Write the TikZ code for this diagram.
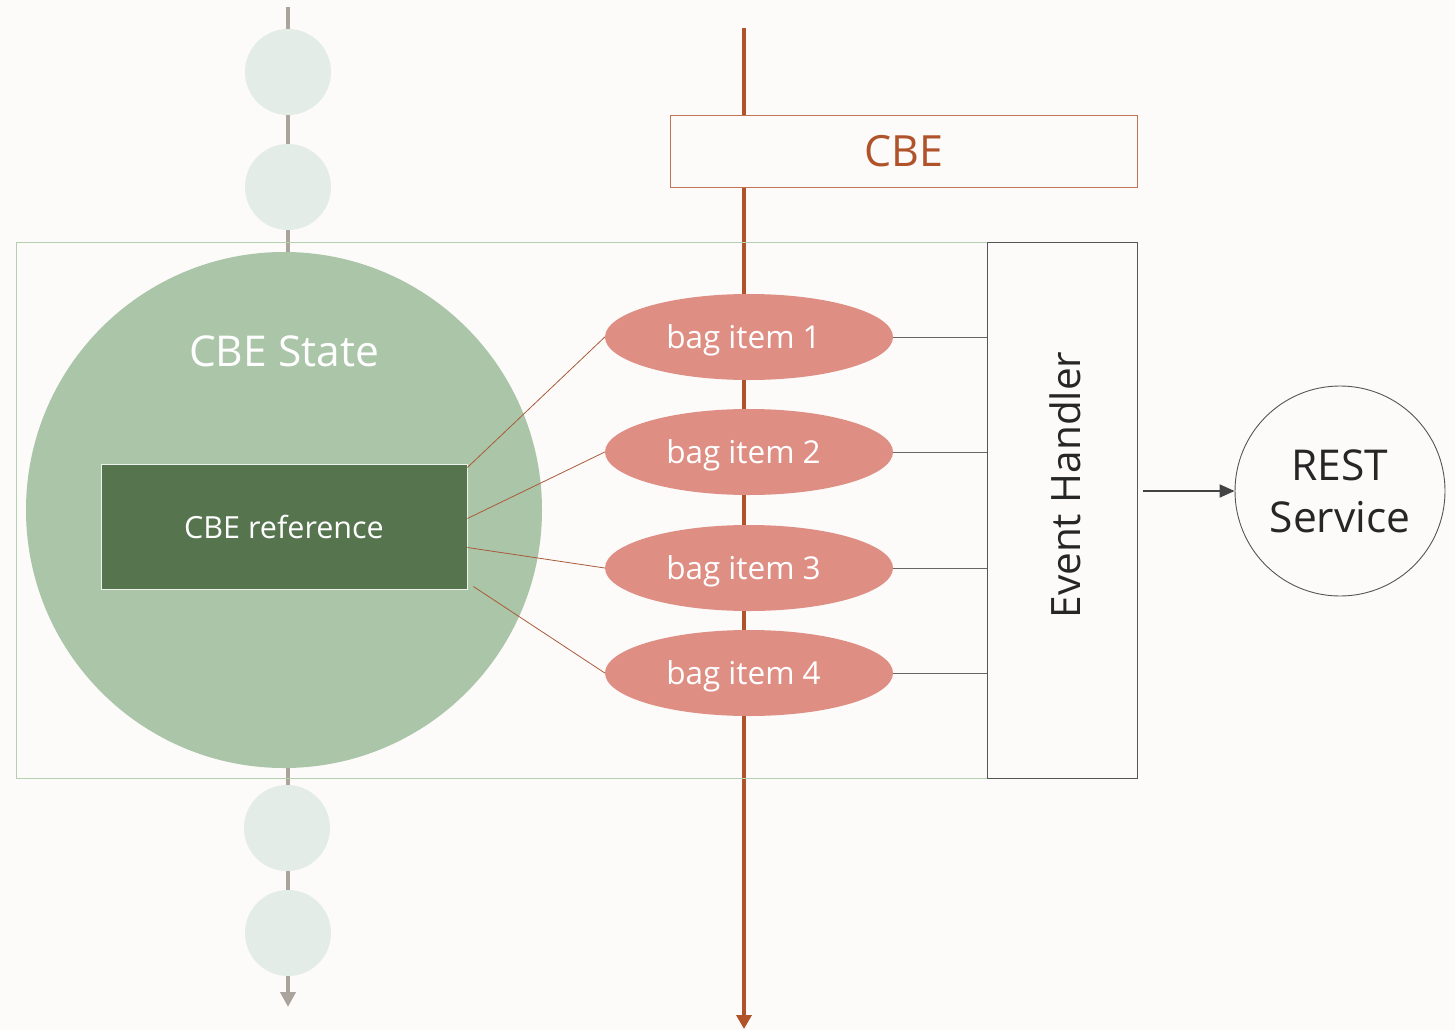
\documentclass[tikz,border=0pt]{standalone}
\usepackage{fontspec}
\setmainfont{Open Sans}
\usetikzlibrary{shapes.geometric,arrows.meta}

\definecolor{paper}{HTML}{FCFBFA}
\definecolor{railgrey}{HTML}{AAA49D}
\definecolor{beadgreen}{HTML}{E3ECE6}
\definecolor{stategreen}{HTML}{ABC5A9}
\definecolor{framegreen}{HTML}{B5CFB1}
\definecolor{refgreen}{HTML}{56754F}
\definecolor{cbeorange}{HTML}{B0532B}
\definecolor{cbeborder}{HTML}{C37352}
\definecolor{bagred}{HTML}{DF8E84}
\definecolor{linkbrown}{HTML}{A95A38}
\definecolor{handlergrey}{HTML}{555555}

\tikzset{
  bead/.style={circle, fill=beadgreen, minimum size=86pt, inner sep=0pt},
  bag/.style={ellipse, fill=bagred, minimum width=288pt, minimum height=86pt, inner sep=0pt, text depth=0pt, text=white, font=\fontsize{31.5}{38}\selectfont},
  refbox/.style={fill=refgreen, draw=white!75!framegreen, line width=0.8pt, minimum width=366pt, minimum height=125pt, text=white, font=\fontsize{30.5}{36}\selectfont},
  cbebox/.style={fill=paper, draw=cbeborder, line width=0.9pt, minimum width=467pt, minimum height=72pt, text=cbeorange, font=\fontsize{43}{50}\selectfont},
  link/.style={draw=linkbrown, line width=0.8pt},
  tie/.style={draw=handlergrey!90, line width=0.9pt}
}

\begin{document}
\begin{tikzpicture}[x=1pt,y=-1pt]
  \useasboundingbox[fill=paper] (0,0) rectangle (1455,1030);
  % rails
  \coordinate (gtop) at (288,7);
  \coordinate (gend) at (288,1007);
  \coordinate (otop) at (744,28);
  \coordinate (oend) at (744,1029);
  \draw[railgrey, line width=4pt, -{Triangle[width=15pt,length=15pt]}] (gtop) -- (gend);
  \draw[cbeorange, line width=4pt, -{Triangle[width=15pt,length=14pt]}] (otop) -- (oend);
  \draw[framegreen, line width=1pt] (16,242) rectangle (987,778);
  % nodes
  \node (b1) [bead] at (288,72) {};
  \node (b2) [bead] at (288,187) {};
  \node (b3) [bead] at (287,828) {};
  \node (b4) [bead] at (288,933) {};
  \node (state) [circle, fill=stategreen, minimum size=516pt] at (284,510) {};
  \node (statelbl) [text=white, font=\fontsize{42.5}{50}\selectfont] at (284,351) {CBE State};
  \node (ref) [refbox] at (284,526.5) {CBE reference};
  \node (cbe) [cbebox] at (903.5,151) {CBE};
  \foreach \i/\y in {1/337,2/452,3/568,4/673}
    \node (bag\i) [bag] at (749,\y) {\hspace*{-11pt}bag item \i};
  \node (eh) [draw=handlergrey, line width=1pt, minimum width=150pt, minimum height=536pt] at (1062,510) {};
  \node (ehlbl) [rotate=90, text=black!85, font=\fontsize{40.5}{48}\selectfont] at (1065,485) {Event Handler};
  \node (rest) [circle, draw=handlergrey, line width=0.9pt, minimum size=210pt, align=center, text=black!85, font=\fontsize{42.5}{52}\selectfont] at (1340,491) {REST\\Service};
  % links
  \draw[link] ([yshift=59pt]ref.east) -- (bag1.west);
  \draw[link] ([yshift=8pt]ref.east) -- (bag2.west);
  \draw[link] ([yshift=-21pt]ref.east) -- (bag3.west);
  \draw[link] ([xshift=6pt,yshift=-60pt]ref.east) -- (bag4.west);
  \foreach \i in {1,...,4}
    \draw[tie] (bag\i.east) -- (bag\i.east -| eh.west);
  % arrows
  \draw[handlergrey!80!black, line width=2pt, shorten <=5pt, -{Triangle[width=13pt,length=15pt]}] (eh.east |- rest.west) -- (rest.west);
\end{tikzpicture}
\end{document}
